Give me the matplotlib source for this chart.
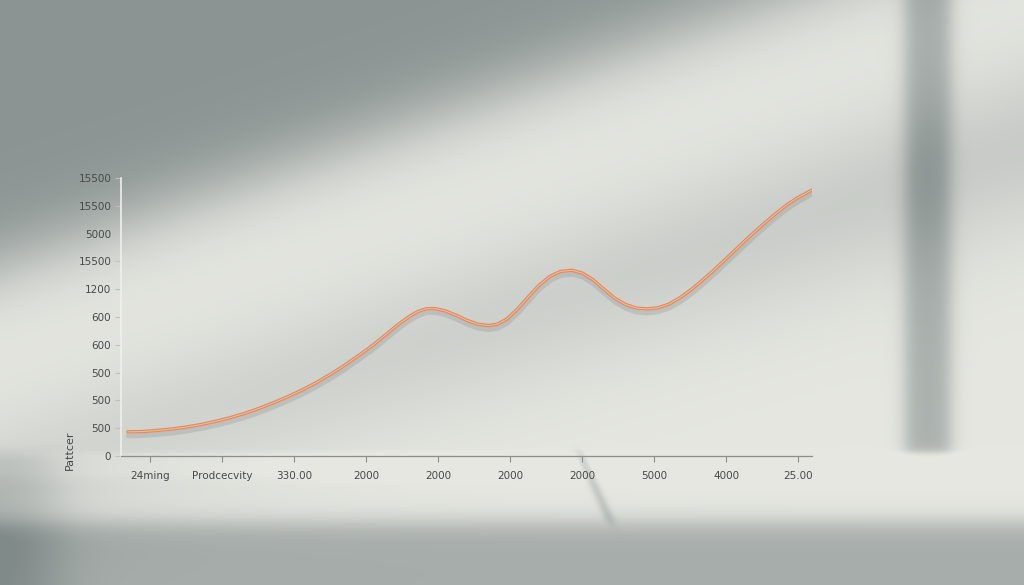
import numpy as np
import matplotlib
matplotlib.use('Agg')
import matplotlib.pyplot as plt
import matplotlib.transforms as mtransforms

# tick labels as printed on the chart
x_labels = ['24ming', 'Prodcecvity', '330.00', '2000', '2000', '2000', '2000', '5000', '4000', '25.00']
y_labels = ['0', '500', '500', '500', '600', '600', '1200', '15500', '5000', '15500', '15500']
y_title = 'Pattcer'

# curve (x in category slots, y in tick steps)
curve_x = [-0.31, -0.1, 0.1, 0.3, 0.5, 0.7, 0.9, 1.1, 1.3, 1.5, 1.7, 1.9, 2.1, 2.3, 2.5,
           2.7, 2.9, 3.1, 3.3, 3.45, 3.6, 3.72, 3.84, 3.96, 4.1, 4.25, 4.4, 4.55, 4.7,
           4.82, 4.95, 5.1, 5.25, 5.4, 5.55, 5.7, 5.86, 6.0, 6.15, 6.3, 6.45, 6.6, 6.75,
           6.9, 7.05, 7.2, 7.35, 7.5, 7.65, 7.8, 7.95, 8.1, 8.25, 8.4, 8.55, 8.7, 8.85,
           9.0, 9.19]
curve_y = [0.87, 0.88, 0.92, 0.97, 1.04, 1.13, 1.24, 1.37, 1.52, 1.70, 1.90, 2.12, 2.36, 2.63, 2.93,
           3.26, 3.62, 4.00, 4.42, 4.74, 5.02, 5.20, 5.30, 5.30, 5.22, 5.06, 4.88, 4.74, 4.69,
           4.74, 4.92, 5.28, 5.72, 6.14, 6.46, 6.64, 6.68, 6.58, 6.34, 6.00, 5.68, 5.45, 5.32,
           5.29, 5.33, 5.46, 5.68, 5.96, 6.28, 6.62, 6.98, 7.35, 7.72, 8.08, 8.42, 8.75, 9.05,
           9.30, 9.57]

W, H = 1024, 585

# soft window-light background
yy, xx = np.mgrid[0:H, 0:W].astype(float)

def side(x0, y0, x1, y1, soft):
    dx, dy = x1 - x0, y1 - y0
    d = ((xx - x0) * dy - (yy - y0) * dx) / np.hypot(dx, dy)
    return 1 / (1 + np.exp(-d / soft))

def sig(v):
    return 1 / (1 + np.exp(-v))

shade = np.zeros((H, W))
shade += 0.40 * side(0, 265, 770, 0, 22)                                   # top-left
band = side(1024, 95, 100, 420, 30) * side(200, 440, 1024, 195, 35)
shade += 0.20 * band                                                          # diagonal band
vert = sig((xx - 905) / 5) * sig(-(xx - 950) / 5) * sig(-(yy - 452) / 3)
shade += 0.26 * vert
shade += 0.28 * sig((yy - 522) / 7)
shade += 0.16 * sig(-(xx - 50) / 18) * sig((yy - 452) / 3)
shade -= 0.05 * sig((yy - 452) / 1.5) * sig(-(yy - 478) / 4)
dl = np.abs((xx - 578) * 75 - (yy - 450) * 34) / np.hypot(34, 75)
shade += 0.14 * np.exp(-(dl / 5) ** 2) * sig((yy - 452) / 2) * sig(-(yy - 522) / 3)
shade = np.clip(shade, 0, 0.45)

base = np.array([230, 231, 225]) / 255.0
dark = np.array([128, 138, 137]) / 255.0
t = shade[..., None] / 0.45
img = np.clip(base[None, None, :] * (1 - t) + dark[None, None, :] * t, 0, 1)

fig = plt.figure(figsize=(W / 100, H / 100), dpi=100)
bg = fig.add_axes([0, 0, 1, 1])
bg.imshow(img, aspect='auto', interpolation='bilinear')
bg.axis('off')

ax = fig.add_axes([121 / W, 1 - 456 / H, (812 - 121) / W, (456 - 178) / H])
ax.set_facecolor('none')

# soft shadow under the line
shadow_tr = mtransforms.offset_copy(ax.transData, fig=fig, x=0.5, y=-4, units='dots')
ax.plot(curve_x, curve_y, color='#8f9391', lw=3.5, alpha=0.3, transform=shadow_tr, solid_capstyle='round')
ax.plot(curve_x, curve_y, color='#e0895c', lw=2.4, solid_capstyle='round')
ax.plot(curve_x, curve_y, color='#f1bb98', lw=0.8, solid_capstyle='round')

ax.set_xlim(-0.403, 9.19)
ax.set_ylim(0, 10)
ax.set_xticks(range(len(x_labels)))
ax.set_xticklabels(x_labels)
ax.set_yticks(range(len(y_labels)))
ax.set_yticklabels(y_labels)

for s in ['top', 'right']:
    ax.spines[s].set_visible(False)
ax.spines['left'].set_color('#f0f0ec')
ax.spines['left'].set_linewidth(1.2)
ax.spines['bottom'].set_color('#8c8e8a')
ax.spines['bottom'].set_linewidth(0.9)

ax.tick_params(axis='y', colors='#bfc1bd', labelcolor='#474a48', labelsize=7.5, length=4, width=0.8, pad=3)
ax.tick_params(axis='x', colors='#8c8e8a', labelcolor='#474a48', labelsize=7.5, length=4, width=0.8, pad=7)

ax.set_ylabel(y_title, fontsize=8, color='#474a48', labelpad=4)
ax.yaxis.set_label_coords(-0.067, 0.02, transform=ax.transAxes)

fig.savefig('out.png', dpi=100)
